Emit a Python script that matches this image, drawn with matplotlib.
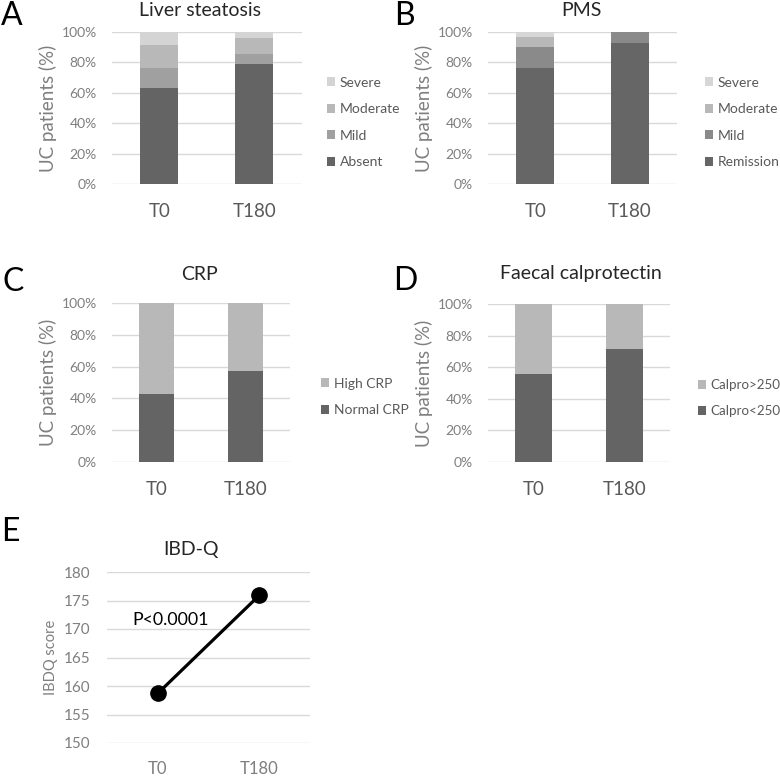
import numpy as np
import matplotlib
matplotlib.use('Agg')
import matplotlib.pyplot as plt

plt.rcParams['font.family'] = ['Lato', 'DejaVu Sans']

times = ['T0', 'T180']

# A - liver steatosis (% of patients)
liver_labels = ['Absent', 'Mild', 'Moderate', 'Severe']
liver_vals = [[63.0, 78.7],
              [13.0, 6.8],
              [15.4, 10.7],
              [8.6, 3.8]]

# B - PMS
pms_labels = ['Remission', 'Mild', 'Moderate', 'Severe']
pms_vals = [[76.3, 93.0],
            [13.7, 7.0],
            [6.5, 0.0],
            [3.5, 0.0]]

# C - CRP
crp_labels = ['Normal CRP', 'High CRP']
crp_vals = [[42.6, 57.1],
            [57.4, 42.9]]

# D - faecal calprotectin
calpro_labels = ['Calpro<250', 'Calpro>250']
calpro_vals = [[55.6, 71.5],
               [44.4, 28.5]]

# E - IBD-Q
ibdq_scores = [158.7, 175.9]
p_text = 'P<0.0001'

W, H = 780, 777
fig = plt.figure(figsize=(W / 100, H / 100), dpi=100)

TICK_C = '#7f7f7f'
TEXT_C = '#595959'
GRID_C = '#d9d9d9'


def px_axes(x0, x1, top, bottom):
    return fig.add_axes([x0 / W, 1 - bottom / H, (x1 - x0) / W, (bottom - top) / H])


def style(ax):
    for s in ax.spines.values():
        s.set_visible(False)
    ax.tick_params(length=0)
    ax.grid(axis='y', color=GRID_C, linewidth=1)
    ax.set_axisbelow(True)


def stacked(ax, vals, labels, colors, leg_xy, leg_fs=10):
    x = np.arange(len(times))
    bottom = np.zeros(len(times))
    handles = []
    for v, lab, c in zip(vals, labels, colors):
        b = ax.bar(x, v, 0.4, bottom=bottom, color=c, label=lab)
        handles.append(b)
        bottom += np.array(v)
    style(ax)
    ax.set_xlim(-0.5, 1.5)
    ax.set_ylim(0, 100)
    ax.set_yticks(np.arange(0, 101, 20))
    ax.set_yticklabels(['%d%%' % t for t in range(0, 101, 20)], fontsize=10, color=TICK_C)
    ax.set_xticks(x)
    ax.set_xticklabels(times, fontsize=13.5, color=TEXT_C)
    ax.tick_params(axis='y', pad=11)
    ax.tick_params(axis='x', pad=14)
    ax.set_ylabel('UC patients (%)', fontsize=13.5, color=TICK_C, labelpad=3)
    leg = ax.legend(handles[::-1], labels[::-1], loc='center left',
                    bbox_to_anchor=(leg_xy[0] / W, 1 - leg_xy[1] / H),
                    bbox_transform=fig.transFigure, frameon=False,
                    fontsize=leg_fs, handlelength=0.6, handleheight=0.6,
                    handletextpad=0.3, labelspacing=1.05, borderpad=0,
                    borderaxespad=0)
    for t in leg.get_texts():
        t.set_color(TEXT_C)


axA = px_axes(112, 302, 32, 184)
stacked(axA, liver_vals, liver_labels, ['#646464', '#a0a0a0', '#b8b8b8', '#d4d4d4'], (327, 122.5))

axB = px_axes(488, 677, 32, 184)
stacked(axB, pms_vals, pms_labels, ['#666666', '#8a8a8a', '#b8b8b8', '#d6d6d6'], (705, 122.5))

axC = px_axes(112, 290, 303, 462)
stacked(axC, crp_vals, crp_labels, ['#646464', '#b8b8b8'], (321, 397))

axD = px_axes(488, 670, 304, 462)
stacked(axD, calpro_vals, calpro_labels, ['#646464', '#b8b8b8'], (698, 398), leg_fs=9.6)

axE = px_axes(107, 310, 572, 743)
style(axE)
axE.plot([0, 1], ibdq_scores, color='black', linewidth=2.3, marker='o',
         markersize=11, zorder=3)
axE.set_xlim(-0.5, 1.5)
axE.set_ylim(150, 180)
axE.set_yticks(np.arange(150, 181, 5))
axE.tick_params(axis='y', labelsize=11, labelcolor=TICK_C, pad=12)
axE.set_xticks([0, 1])
axE.set_xticklabels(times, fontsize=12, color=TICK_C)
axE.tick_params(axis='x', pad=13)
axE.set_ylabel('IBDQ score', fontsize=10.5, color=TICK_C, labelpad=4)
axE.text(132 / W, 1 - 620 / H, p_text, transform=fig.transFigure,
         fontsize=12.8, color='black', va='center', ha='left')

# titles
for txt, x, y in [('Liver steatosis', 200, 10), ('PMS', 581, 10), ('CRP', 199, 274),
                  ('Faecal calprotectin', 581, 273), ('IBD-Q', 191, 549)]:
    fig.text(x / W, 1 - y / H, txt, fontsize=14, color='#262626', ha='center', va='center')

# panel letters
for txt, x, y in [('A', 1, 16), ('B', 394, 16), ('C', 2, 282), ('D', 393, 281), ('E', 1, 532)]:
    fig.text(x / W, 1 - y / H, txt, fontsize=23, color='black', ha='left', va='center')

fig.savefig('out.png', dpi=100)
